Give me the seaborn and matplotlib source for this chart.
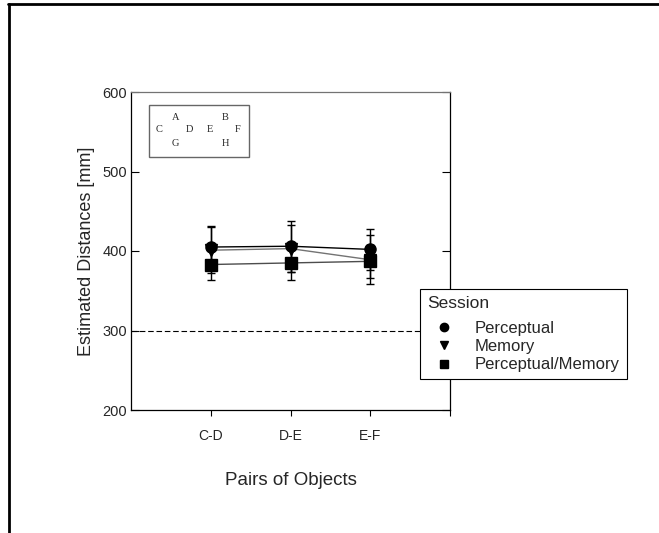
#!/usr/bin/env python3
import matplotlib
matplotlib.use("Agg")
import matplotlib.pyplot as plt
from matplotlib.lines import Line2D
from matplotlib.patches import Rectangle
import numpy as np
import pandas as pd
import seaborn as sns

# values
pairs = ["C-D", "D-E", "E-F"]
sessions = ["Perceptual", "Memory", "Perceptual/Memory"]
perceptual_mean = [405, 406, 402]
perceptual_err = [26, 32, 26]
memory_mean = [401, 403, 389]
memory_err = [29, 30, 31]
percmem_mean = [383, 385, 387]
percmem_err = [19, 22, 21]

layout_letters = ["A", "B", "C", "D", "E", "F", "G", "H"]


def main() -> None:
    rows = []
    for sess, means, errs in [
        ("Perceptual", perceptual_mean, perceptual_err),
        ("Memory", memory_mean, memory_err),
        ("Perceptual/Memory", percmem_mean, percmem_err),
    ]:
        for i, (p, m, e) in enumerate(zip(pairs, means, errs)):
            rows.append({"session": sess, "pair": p, "pos": i + 1, "mean": m, "err": e})
    df = pd.DataFrame(rows)

    sns.set_theme(style="ticks")
    plt.rcParams["font.family"] = ["Liberation Sans", "DejaVu Sans"]

    fig = plt.figure(figsize=(6.59, 5.33), dpi=100)
    ax = fig.add_axes([131 / 659, 1 - 410 / 533, 319 / 659, 318 / 533])

    markers = {"Perceptual": "o", "Memory": "v", "Perceptual/Memory": "s"}
    line_col = {"Perceptual": "black", "Memory": "0.45", "Perceptual/Memory": "0.3"}

    for sess in sessions:
        sdf = df[df["session"] == sess]
        ax.errorbar(sdf["pos"], sdf["mean"], yerr=sdf["err"], fmt="none",
                    ecolor="black", elinewidth=1.0, capsize=3.2, capthick=1.0, zorder=2)

    sns.lineplot(data=df, x="pos", y="mean", hue="session", hue_order=sessions,
                 palette=line_col, linewidth=1.0, legend=False, ax=ax, zorder=3,
                 estimator=None, sort=False)
    for sess in sessions:
        sdf = df[df["session"] == sess]
        ax.plot(sdf["pos"], sdf["mean"], linestyle="none", marker=markers[sess],
                ms=8, color="black", zorder=4)

    ax.axhline(300, color="black", lw=0.8, ls=(0, (5, 2.5)), zorder=1)

    ax.set_xlim(0, 4)
    ax.set_ylim(200, 600)
    ax.set_xticks([1, 2, 3, 4])
    ax.set_xticklabels(pairs + [""])
    ax.set_yticks([200, 300, 400, 500, 600])
    ax.tick_params(axis="x", direction="out", length=4.5, width=0.8, labelsize=10,
                   pad=9, color="black")
    ax.tick_params(axis="y", direction="in", length=5.5, width=0.8, labelsize=10.5,
                   right=True, left=True, pad=3, color="black")
    ax.set_xlabel("Pairs of Objects", fontsize=13.5, labelpad=21)
    ax.set_ylabel("Estimated Distances [mm]", fontsize=13, labelpad=5)
    for side, sp in ax.spines.items():
        sp.set_visible(True)
        sp.set_linewidth(0.9)
        sp.set_color("black")
    ax.spines["top"].set_color("0.45")
    ax.grid(False)

    # small layout box in upper left
    ax.add_patch(Rectangle((149 / 659, 1 - 157 / 533), 100 / 659, 52 / 533,
                           transform=fig.transFigure, fill=False, edgecolor="0.4",
                           lw=1.0, zorder=5, clip_on=False))
    letter_px = [(176, 117), (225, 117), (159, 130), (189, 130),
                 (210, 130), (238, 130), (175, 143), (225, 143)]
    for lab, (px, py) in zip(layout_letters, letter_px):
        fig.text(px / 659, 1 - py / 533, lab, ha="center", va="center",
                 fontsize=7.5, family=["Liberation Serif", "DejaVu Serif"])

    handles = [Line2D([], [], marker=markers[s], ls="none", color="black", ms=6)
               for s in sessions]
    leg = ax.legend(handles, sessions, title="Session", loc="upper left",
                    bbox_to_anchor=(420 / 659, 1 - 289 / 533),
                    bbox_transform=fig.transFigure, frameon=True, fancybox=False,
                    fontsize=12, title_fontsize=12.5, handletextpad=0.85,
                    borderpad=0.42, labelspacing=0.2, handlelength=2.0,
                    borderaxespad=0)
    leg._legend_box.align = "left"
    leg._legend_box.sep = 7
    leg.get_frame().set_edgecolor("black")
    leg.get_frame().set_linewidth(0.8)
    leg.get_frame().set_facecolor("white")
    leg.get_frame().set_alpha(1)
    leg.set_zorder(10)

    # frame lines along top and left of the figure
    fig.add_artist(Line2D([8 / 659, 1], [1 - 4 / 533, 1 - 4 / 533],
                          transform=fig.transFigure, color="black", lw=2))
    fig.add_artist(Line2D([9 / 659, 9 / 659], [0, 1 - 4 / 533],
                          transform=fig.transFigure, color="black", lw=2))

    fig.savefig("out.png", dpi=100)
    plt.close(fig)


if __name__ == "__main__":
    main()
